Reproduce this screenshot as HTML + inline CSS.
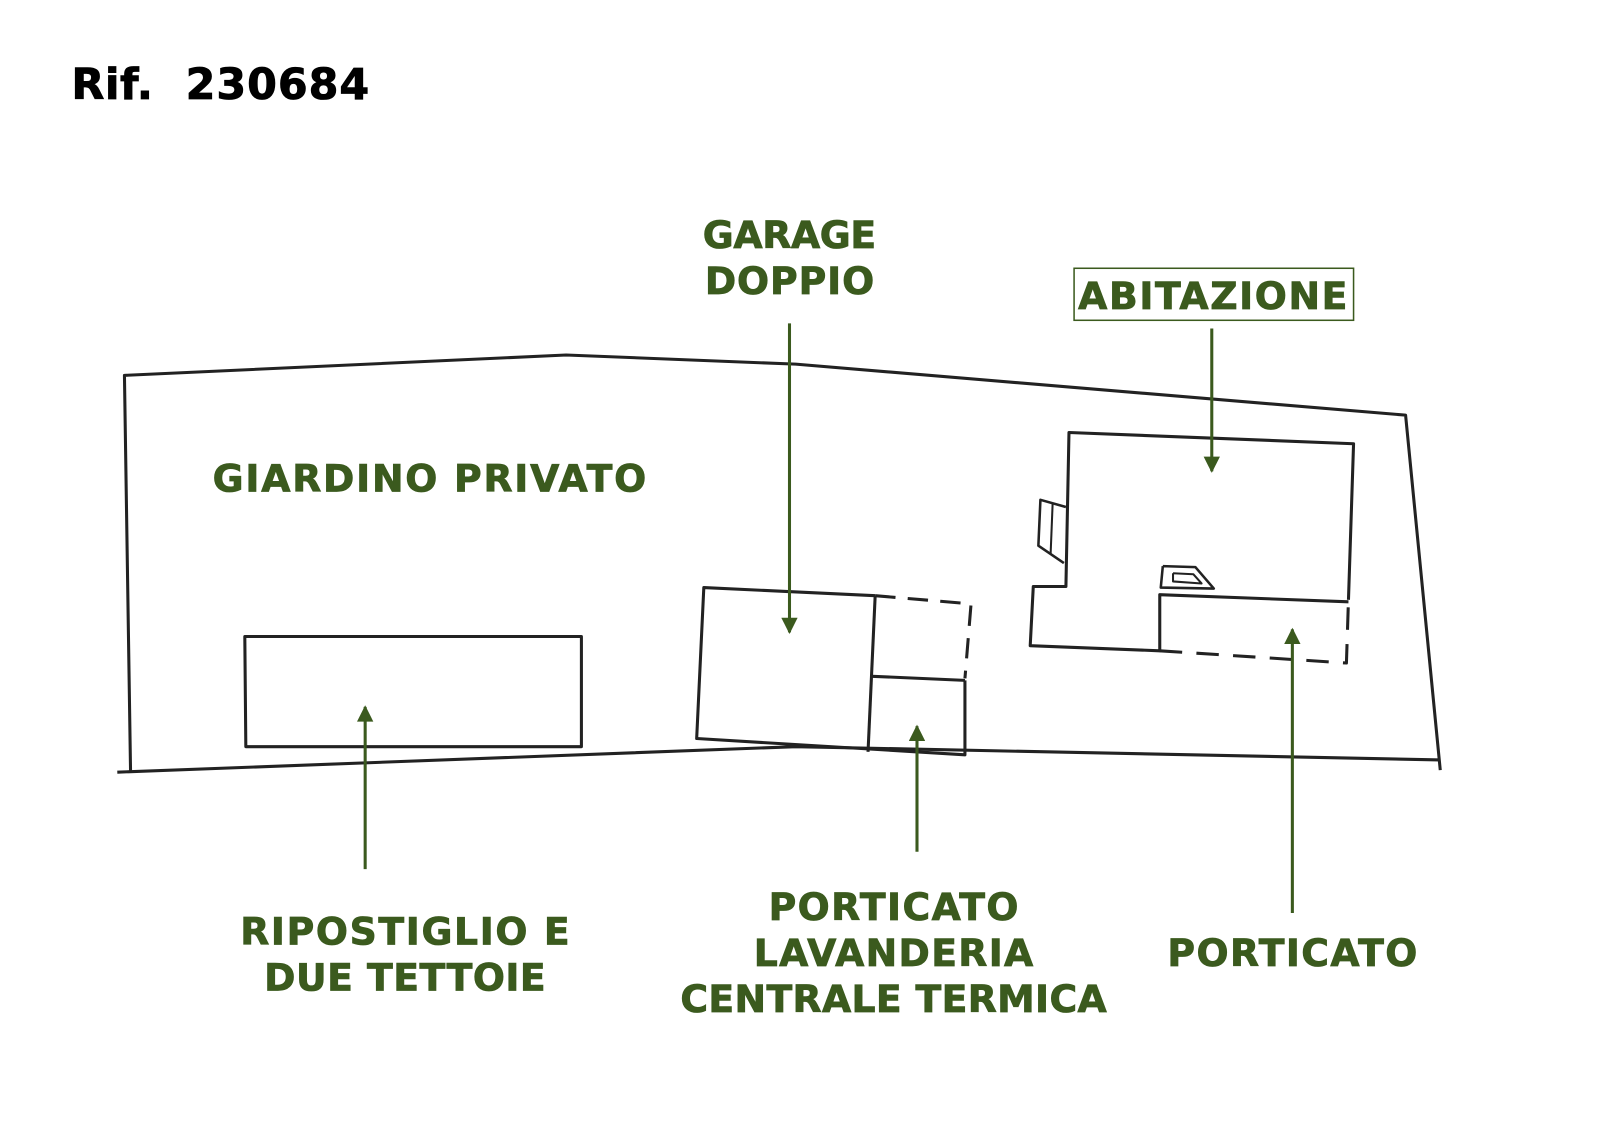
<!DOCTYPE html>
<html><head><meta charset="utf-8"><style>html,body{margin:0;padding:0;background:#fff}svg{display:block}</style></head>
<body>
<svg width="1600" height="1140" viewBox="0 0 1568.6 1117.6" preserveAspectRatio="none" xmlns="http://www.w3.org/2000/svg">
<defs>
<marker id="h" viewBox="0 0 10 10" refX="9" refY="5" markerWidth="19" markerHeight="16" markerUnits="userSpaceOnUse" orient="auto"><path d="M0,0L10,5L0,10z" fill="#3b5a1e"/></marker></defs>
<g font-family="DejaVu Sans, Liberation Sans, sans-serif" font-weight="bold" font-size="42" lengthAdjust="spacingAndGlyphs" stroke="#000" stroke-width="0.8">
<text x="70" y="97" textLength="80">Rif.</text>
<text x="182" y="97" textLength="180">230684</text>
</g>
<g fill="none" stroke="#222" stroke-width="3" stroke-linejoin="round">
<polyline points="128,757 122,368 555,348 780,357 1378,407 1412,755"/>
<polyline points="115,757 780,732 1412,745"/>
<polygon points="240,624 570,624 570,732 241,732"/>
<polyline points="858,584 690,576 683,724 946,740 946,667"/>
<line x1="858" y1="584" x2="851" y2="737"/>
<line x1="855" y1="663" x2="946" y2="667"/>
<polyline points="858,584 952,592 946,665" stroke-dasharray="20,12"/>
<polyline points="1322,588 1327,435 1048,424 1045,575 1013,575 1010,633 1137,638 1137,583 1322,590"/>
<polyline points="1137,638 1320,650 1322,588" stroke-dasharray="22,14"/>
<polyline points="1045,497 1020,490 1018,535 1043,552" stroke-width="2.5"/>
<line x1="1032" y1="493" x2="1030" y2="543" stroke-width="2"/>
<polyline points="1140,555 1172,556 1190,577 1138,576 1140,555" stroke-width="2.5"/>
<polyline points="1150,562 1170,563 1178,572 1150,570 1150,562" stroke-width="2"/>
</g>
<g stroke="#3b5a1e" stroke-width="3" marker-end="url(#h)">
<line x1="774" y1="317" x2="774" y2="620"/>
<line x1="1188" y1="322" x2="1188" y2="462"/>
<line x1="358" y1="852" x2="358" y2="693"/>
<line x1="899" y1="835" x2="899" y2="712"/>
<line x1="1267" y1="895" x2="1267" y2="617"/>
</g>
<rect x="1053" y="263" width="274" height="51" fill="none" stroke="#3b5a1e" stroke-width="1.5"/>
<g fill="#3b5a1e" stroke="#3b5a1e" stroke-width="0.8" font-family="DejaVu Sans, Liberation Sans, sans-serif" font-weight="bold" font-size="37" text-anchor="middle" lengthAdjust="spacingAndGlyphs">
<text x="774" y="243" textLength="170">GARAGE</text>
<text x="774" y="288" textLength="166">DOPPIO</text>
<text x="1189" y="303" textLength="264">ABITAZIONE</text>
<text x="421" y="482" textLength="425">GIARDINO PRIVATO</text>
<text x="397" y="926" textLength="323">RIPOSTIGLIO E</text>
<text x="397" y="971" textLength="276">DUE TETTOIE</text>
<text x="876" y="902" textLength="245">PORTICATO</text>
<text x="876" y="947" textLength="274">LAVANDERIA</text>
<text x="876" y="992" textLength="418">CENTRALE TERMICA</text>
<text x="1267" y="947" textLength="245">PORTICATO</text>
</g>
</svg>
</body></html>
